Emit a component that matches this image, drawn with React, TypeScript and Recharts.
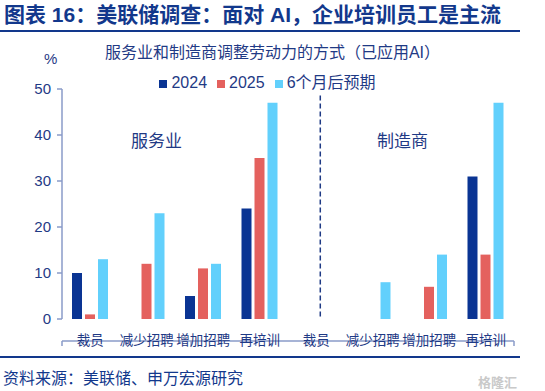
import React from 'react';
import { BarChart, Bar, XAxis, YAxis, Legend, ReferenceLine } from 'recharts';

// categories: first four are services, last four manufacturing
const categories = ['裁员', '减少招聘', '增加招聘', '再培训', '裁员', '减少招聘', '增加招聘', '再培训'];
const values2024 = [10, 0, 5, 24, 0, 0, 0, 31];
const values2025 = [1, 12, 11, 35, 0, 0, 7, 14];
const valuesExpected = [13, 23, 12, 47, 0, 8, 14, 47];
const yTicks = [0, 10, 20, 30, 40, 50];
const boundaryTicks = [0, 1, 2, 3, 4, 5, 6, 7, 8];

const data = categories.map((name, i) => ({
  name,
  y2024: values2024[i],
  y2025: values2025[i],
  expected: valuesExpected[i],
}));

const FONT = '"Liberation Sans", Arial, "Noto Sans CJK SC", sans-serif';
const TEXT = '#1f3a85';
const AXIS = '#8a9bc9';

export default function App() {
  return (
    <div style={{ position: 'absolute', left: 0, top: 0, width: 545, height: 391, background: '#fff', fontFamily: FONT, overflow: 'hidden' }}>
      <div style={{ position: 'absolute', left: 4, top: 2, fontSize: 21, fontWeight: 'bold', color: '#12388c', whiteSpace: 'nowrap', lineHeight: '26px' }}>
        图表 16：美联储调查：面对 AI，企业培训员工是主流
      </div>
      <div style={{ position: 'absolute', left: 0, top: 30, width: 520, height: 2, background: '#12388c' }} />
      <div style={{ position: 'absolute', left: 0, width: 545, top: 43, textAlign: 'center', fontSize: 16, color: TEXT, lineHeight: '20px' }}>
        服务业和制造商调整劳动力的方式（已应用AI）
      </div>
      <div style={{ position: 'absolute', left: 44, top: 50, fontSize: 15, color: TEXT }}>%</div>

      <BarChart
        width={545}
        height={391}
        data={data}
        margin={{ top: 65, right: 31, bottom: 44, left: 22 }}
        barSize={10}
        barGap={3}
        style={{ position: 'absolute', left: 0, top: 0 }}
      >
        <XAxis
          xAxisId="num"
          type="number"
          domain={[0, 8]}
          ticks={boundaryTicks}
          tickFormatter={() => ''}
          stroke={AXIS}
          strokeWidth={1.5}
          tickSize={5}
          height={6}
        />
        <XAxis
          xAxisId="cat"
          dataKey="name"
          axisLine={false}
          tickLine={false}
          height={22}
          tickMargin={10}
          interval={0}
          tick={{ fill: TEXT, fontSize: 13.5, fontFamily: FONT }}
        />
        <YAxis
          domain={[0, 50]}
          ticks={yTicks}
          width={40}
          stroke={AXIS}
          strokeWidth={1.5}
          tickSize={5}
          tickMargin={6}
          tick={{ fill: TEXT, fontSize: 15, fontFamily: FONT }}
        />
        <Legend
          verticalAlign="top"
          align="center"
          iconType="square"
          iconSize={8}
          wrapperStyle={{ top: 69, left: 0, width: 545, fontSize: 16, fontFamily: FONT }}
          formatter={(value: string) => <span style={{ color: TEXT }}>{value}</span>}
        />
        <ReferenceLine
          xAxisId="num"
          segment={[{ x: 4, y: 48.6 }, { x: 4, y: 0 }]}
          stroke="#1f3a85"
          strokeWidth={1.5}
          strokeDasharray="5 3"
        />
        <Bar xAxisId="cat" dataKey="y2024" name="2024" fill="#0a3493" isAnimationActive={false} />
        <Bar xAxisId="cat" dataKey="y2025" name="2025" fill="#e4615e" isAnimationActive={false} />
        <Bar xAxisId="cat" dataKey="expected" name="6个月后预期" fill="#62d0fc" isAnimationActive={false} />
      </BarChart>

      <div style={{ position: 'absolute', left: 131, top: 127, fontSize: 17, color: TEXT }}>服务业</div>
      <div style={{ position: 'absolute', left: 377, top: 127, fontSize: 17, color: TEXT }}>制造商</div>

      <div style={{ position: 'absolute', left: 0, top: 356, width: 520, height: 2, background: '#12388c' }} />
      <div style={{ position: 'absolute', left: 3, top: 369, fontSize: 16, color: '#12388c', lineHeight: '20px' }}>
        资料来源：美联储、申万宏源研究
      </div>
      <div style={{ position: 'absolute', right: 28, top: 372, fontSize: 13, color: '#c9c9c9', fontWeight: 'bold' }}>格隆汇</div>
    </div>
  );
}
